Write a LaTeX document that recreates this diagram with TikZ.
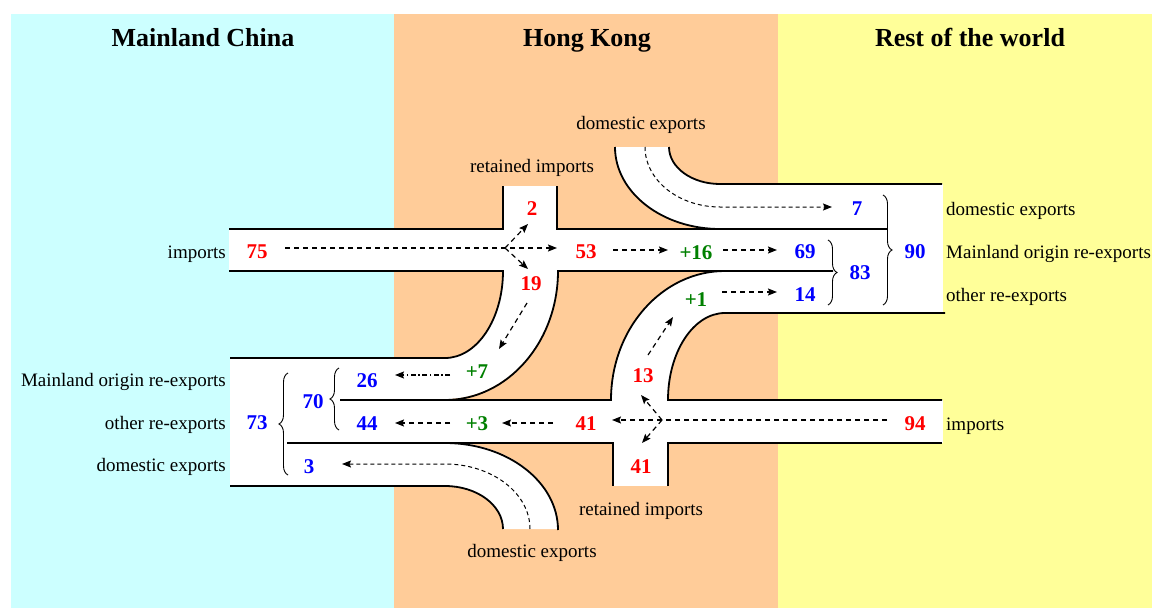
\documentclass[tikz,border=0pt]{standalone}
\usepackage{fontspec}
\setmainfont{Liberation Serif}
\usetikzlibrary{arrows.meta,decorations.pathreplacing}
\definecolor{bgcyan}{RGB}{204,255,255}
\definecolor{bgorange}{RGB}{255,204,153}
\definecolor{bgyellow}{RGB}{255,255,153}
\definecolor{numred}{RGB}{255,0,0}
\definecolor{numblue}{RGB}{0,0,255}
\definecolor{numgreen}{RGB}{0,128,0}
\begin{document}
\begin{tikzpicture}[x=1pt,y=-1pt,
  roadfill/.style={fill=white,draw=none},
  edge/.style={line width=1.8pt,line cap=butt},
  tip/.style={-{Stealth[length=9pt,width=7pt,inset=1.5pt]}},
  flow/.style={tip,line width=1.2pt,dash pattern=on 5pt off 4pt},
  curveflow/.style={tip,line width=1pt,dash pattern=on 4pt off 3pt},
  dotflow/.style={tip,line width=1.2pt,dash pattern=on 5pt off 2.5pt on 1.5pt off 2.5pt},
  bracedeco/.style={decorate,decoration={brace,amplitude=9pt},line width=0.9pt},
  lbl/.style={font=\fontsize{19}{22}\selectfont,inner sep=0pt},
  num/.style={font=\fontsize{21}{24}\selectfont\bfseries,inner sep=0pt},
  title/.style={font=\fontsize{26}{30}\selectfont\bfseries,inner sep=0pt,anchor=base},
  nred/.style={text=numred},
  nblue/.style={text=numblue},
  ngreen/.style={text=numgreen}]
\useasboundingbox (0,0) rectangle (1152,608);
\fill[white] (0,0) rectangle (1152,608);
% backgrounds
\fill[bgcyan] (11,14) rectangle (394,608);
\fill[bgorange] (394,14) rectangle (778,608);
\fill[bgyellow] (778,14) rectangle (1152,608);
\node[title] (tmc) at (203,46) {Mainland China};
\node[title] (thk) at (587,46) {Hong Kong};
\node[title] (trw) at (970,46) {Rest of the world};
% road fills
\fill[roadfill] (229,229) rectangle (725,271);
\fill[roadfill] (503,186) rectangle (557,230);
\fill[roadfill] (720,184) rectangle (943,314);
\fill[roadfill] (615,147) arc[start angle=180,end angle=90,x radius=105,y radius=82] -- (720,184) arc[start angle=90,end angle=180,x radius=51,y radius=37] -- cycle;
\fill[roadfill] (503,270) -- (558,270) arc[start angle=0,end angle=90,x radius=113,y radius=129] -- (445,358) arc[start angle=90,end angle=0,x radius=58,y radius=88] -- cycle;
\fill[roadfill] (230,357) rectangle (447,486);
\fill[roadfill] (445,400) rectangle (943,443);
\fill[roadfill] (613,442) rectangle (668,486);
\fill[roadfill] (611,400) arc[start angle=180,end angle=270,x radius=114,y radius=129] -- (725,313) arc[start angle=270,end angle=180,x radius=57,y radius=87] -- cycle;
\fill[roadfill] (445,442) arc[start angle=270,end angle=360,x radius=113,y radius=87] -- (503,529) arc[start angle=0,end angle=-90,x radius=58,y radius=43] -- cycle;
% road edges
\draw[edge] (229,229) -- (503,229) -- (503,186);
\draw[edge] (557,186) -- (557,229) -- (887,229);
\draw[edge] (229,271) -- (503,271) arc[start angle=0,end angle=90,x radius=58,y radius=87] -- (230,358);
\draw[edge] (833,271) -- (558,271) arc[start angle=0,end angle=90,x radius=113,y radius=129];
\draw[edge] (340,400) -- (611,400) arc[start angle=180,end angle=270,x radius=114,y radius=129];
\draw[edge] (615,147) arc[start angle=180,end angle=90,x radius=105,y radius=82];
\draw[edge] (669,147) arc[start angle=180,end angle=90,x radius=51,y radius=37] -- (942,184);
\draw[edge] (945,313) -- (725,313) arc[start angle=270,end angle=180,x radius=57,y radius=87] -- (942,400);
\draw[edge] (287,443) -- (613,443) -- (613,486);
\draw[edge] (668,486) -- (668,443) -- (942,443);
\draw[edge] (445,443) arc[start angle=270,end angle=360,x radius=113,y radius=87];
\draw[edge] (230,486) -- (445,486) arc[start angle=270,end angle=360,x radius=58,y radius=43];
% labels
\node[lbl,anchor=mid east] (limpL) at (226,256) {imports};
\node[lbl,anchor=mid east] (lmoL) at (226,384) {Mainland origin re-exports};
\node[lbl,anchor=mid east] (lorL) at (226,427) {other re-exports};
\node[lbl,anchor=mid east] (ldeL) at (226,469) {domestic exports};
\node[lbl,anchor=mid west] (ldeR) at (946,213) {domestic exports};
\node[lbl,anchor=mid west] (lmoR) at (946,256) {Mainland origin re-exports};
\node[lbl,anchor=mid west] (lorR) at (946,299) {other re-exports};
\node[lbl,anchor=mid west] (limpR) at (946,428) {imports};
\node[lbl,anchor=mid] (lriT) at (532,170) {retained imports};
\node[lbl,anchor=mid] (ldeT) at (641,127) {domestic exports};
\node[lbl,anchor=mid] (lriB) at (641,513) {retained imports};
\node[lbl,anchor=mid] (ldeB) at (532,555) {domestic exports};
% numbers
\node[num,nred] (n75) at (257,252) {75};
\node[num,nred] (n2) at (532,209) {2};
\node[num,nred] (n19) at (531,284) {19};
\node[num,nred] (n53) at (586,252) {53};
\node[num,ngreen] (n16) at (696,253) {+16};
\node[num,nblue] (n69) at (805,252) {69};
\node[num,nblue] (n7) at (857,209) {7};
\node[num,nblue] (n14) at (805,295) {14};
\node[num,ngreen] (n1) at (696,300) {+1};
\node[num,nblue] (n83) at (860,273) {83};
\node[num,nblue] (n90) at (915,252) {90};
\node[num,nred] (n13) at (643,376) {13};
\node[num,nred] (n94) at (915,424) {94};
\node[num,nred] (n41s) at (641,467) {41};
\node[num,nred] (n41) at (586,424) {41};
\node[num,ngreen] (n3p) at (477,424) {+3};
\node[num,nblue] (n44) at (367,424) {44};
\node[num,ngreen] (n7p) at (477,372) {+7};
\node[num,nblue] (n26) at (367,381) {26};
\node[num,nblue] (n70) at (313,402) {70};
\node[num,nblue] (n73) at (257,423) {73};
\node[num,nblue] (n3) at (309,467) {3};
% braces
\draw[bracedeco] (828,240) -- (828,305);
\draw[bracedeco] (883,195) -- (883,305);
\draw[bracedeco] (339,430) -- (339,368);
\draw[bracedeco] (288,475) -- (288,373);
% flow coordinates
\coordinate (s75) at (285,248);
\coordinate (b1) at (505,248);
\coordinate (e53) at (557,248);
\coordinate (e2) at (528,224);
\coordinate (e19) at (528,269);
\coordinate (s16) at (613,250);
\coordinate (e16) at (668,250);
\coordinate (s69) at (723,250);
\coordinate (e69) at (777,250);
\coordinate (s14) at (722,292);
\coordinate (e14) at (777,292);
\coordinate (sd1) at (645,147);
\coordinate (e7) at (832,207);
\coordinate (s19) at (527,303);
\coordinate (e7p) at (499,349);
\coordinate (s13) at (648,355);
\coordinate (e1) at (673,317);
\coordinate (s94) at (887,420);
\coordinate (b2) at (662,420);
\coordinate (e41) at (612,420);
\coordinate (e13) at (641,395);
\coordinate (e41s) at (642,443);
\coordinate (s3p) at (553,423);
\coordinate (e3p) at (502,423);
\coordinate (s44) at (450,423);
\coordinate (e44) at (395,423);
\coordinate (s26) at (450,375);
\coordinate (e26) at (395,375);
\coordinate (sd2) at (530,529);
\coordinate (e3) at (342,464);
% flows
\draw[flow] (s75) -- (b1) -- (e53);
\draw[flow] (b1) -- (e2);
\draw[flow] (b1) -- (e19);
\draw[flow] (s16) -- (e16);
\draw[flow] (s69) -- (e69);
\draw[flow] (s14) -- (e14);
\draw[curveflow] (sd1) arc[start angle=180,end angle=90,x radius=75,y radius=60] -- (e7);
\draw[flow] (s19) -- (e7p);
\draw[flow] (s13) -- (e1);
\draw[flow] (s94) -- (b2) -- (e41);
\draw[flow] (b2) -- (e13);
\draw[flow] (b2) -- (e41s);
\draw[flow] (s3p) -- (e3p);
\draw[flow] (s44) -- (e44);
\draw[dotflow] (s26) -- (e26);
\draw[curveflow] (sd2) arc[start angle=0,end angle=-90,x radius=85,y radius=65] -- (e3);
\end{tikzpicture}
\end{document}
